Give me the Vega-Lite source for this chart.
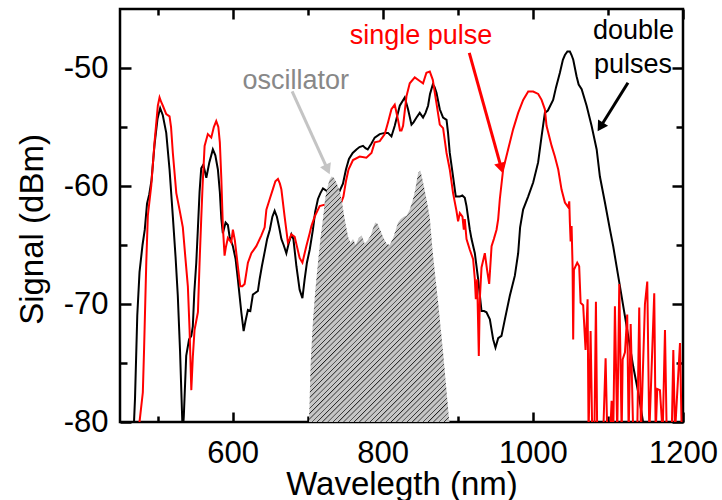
{
"$schema": "https://vega.github.io/schema/vega-lite/v6.json",
"width": 563, "height": 413,
"autosize": "none",
"padding": {"left": 120, "top": 9, "right": 39, "bottom": 78},
"config": {
 "view": {"stroke": "#000", "strokeWidth": 2.5},
 "font": "Liberation Sans",
 "axis": {"domain": false, "grid": false, "tickColor": "#000", "tickWidth": 2.5, "labelFont": "Liberation Sans", "labelFontSize": 31, "labelColor": "#000", "titleFont": "Liberation Sans", "titleFontSize": 33, "titleFontWeight": "normal", "titleColor": "#000", "labelFlush": false, "labelOverlap": false, "labelExpr": "'' + datum.value"}
},
"datasets": {
 "black": [
  {"nm":468,"dB":-81},{"nm":470,"dB":-78},{"nm":473,"dB":-71},{"nm":476,"dB":-67.3},{"nm":480,"dB":-65},{"nm":483,"dB":-63.7},{"nm":486,"dB":-61.5},{"nm":489,"dB":-60.7},{"nm":492,"dB":-59.5},{"nm":496,"dB":-56.5},{"nm":500,"dB":-54.3},{"nm":503.5,"dB":-53.4},{"nm":507,"dB":-54},{"nm":511.6,"dB":-55.5},{"nm":516,"dB":-58.6},{"nm":520.4,"dB":-62.6},{"nm":524,"dB":-66},{"nm":527,"dB":-69.3},{"nm":530,"dB":-74},{"nm":532,"dB":-78},{"nm":533.5,"dB":-81},{"nm":535,"dB":-79.5},{"nm":538.2,"dB":-74.4},{"nm":542,"dB":-73},{"nm":545,"dB":-72.7},{"nm":547,"dB":-71.9},{"nm":549,"dB":-69},{"nm":551.6,"dB":-66.5},{"nm":553.7,"dB":-63.7},{"nm":556,"dB":-60.5},{"nm":558.2,"dB":-58.5},{"nm":561,"dB":-58.2},{"nm":565,"dB":-59.3},{"nm":569,"dB":-58},{"nm":573.7,"dB":-56.9},{"nm":577,"dB":-57.4},{"nm":580.4,"dB":-58.6},{"nm":583,"dB":-60.5},{"nm":585,"dB":-62.8},{"nm":587,"dB":-64},{"nm":590.7,"dB":-63.1},{"nm":593.7,"dB":-63.3},{"nm":596,"dB":-64.3},{"nm":600.4,"dB":-65.1},{"nm":604,"dB":-66.2},{"nm":607,"dB":-67.9},{"nm":611.6,"dB":-70.7},{"nm":614.7,"dB":-72.3},{"nm":617,"dB":-71.5},{"nm":620.4,"dB":-70.5},{"nm":623.6,"dB":-70.6},{"nm":627,"dB":-69.2},{"nm":633.7,"dB":-68.9},{"nm":636,"dB":-67.9},{"nm":639,"dB":-66.8},{"nm":643,"dB":-65.5},{"nm":646,"dB":-64.5},{"nm":649.6,"dB":-63.7},{"nm":653,"dB":-62.6},{"nm":656,"dB":-62.1},{"nm":659,"dB":-62.6},{"nm":662,"dB":-63.5},{"nm":665,"dB":-64.5},{"nm":668,"dB":-65},{"nm":671.6,"dB":-65.7},{"nm":675,"dB":-64.8},{"nm":678.3,"dB":-64.1},{"nm":681,"dB":-64.5},{"nm":685,"dB":-66.8},{"nm":689.3,"dB":-68.8},{"nm":693,"dB":-69.5},{"nm":696,"dB":-67.9},{"nm":699,"dB":-66.5},{"nm":702.7,"dB":-65.4},{"nm":707,"dB":-63.7},{"nm":710,"dB":-62.2},{"nm":713.7,"dB":-61.1},{"nm":717,"dB":-60.6},{"nm":720.4,"dB":-60.2},{"nm":725,"dB":-60.4},{"nm":730,"dB":-60.8},{"nm":736,"dB":-61},{"nm":742,"dB":-60.5},{"nm":747,"dB":-59.8},{"nm":751,"dB":-58.6},{"nm":755,"dB":-57.7},{"nm":760,"dB":-57.2},{"nm":765,"dB":-56.9},{"nm":769,"dB":-56.7},{"nm":773.7,"dB":-56.6},{"nm":777,"dB":-56.8},{"nm":780,"dB":-56.9},{"nm":785,"dB":-56.4},{"nm":789.3,"dB":-55.9},{"nm":796,"dB":-55.6},{"nm":802.7,"dB":-55.5},{"nm":807,"dB":-55.5},{"nm":811.6,"dB":-55.8},{"nm":816,"dB":-54.9},{"nm":822.7,"dB":-53.2},{"nm":829.3,"dB":-52.5},{"nm":833.7,"dB":-53.5},{"nm":838.3,"dB":-54.8},{"nm":841,"dB":-54.6},{"nm":845,"dB":-54.2},{"nm":849.3,"dB":-53.8},{"nm":853.7,"dB":-54.2},{"nm":857,"dB":-53.8},{"nm":860.4,"dB":-53.2},{"nm":863,"dB":-52.2},{"nm":866.7,"dB":-51.4},{"nm":869,"dB":-51.6},{"nm":871.6,"dB":-52.1},{"nm":876,"dB":-53.5},{"nm":880.4,"dB":-54.2},{"nm":885,"dB":-54.4},{"nm":887,"dB":-55.5},{"nm":889.3,"dB":-57.2},{"nm":893.7,"dB":-59.2},{"nm":897.3,"dB":-60.9},{"nm":902.7,"dB":-60.9},{"nm":906,"dB":-60.8},{"nm":909.3,"dB":-61},{"nm":911.6,"dB":-61.7},{"nm":916,"dB":-63.7},{"nm":918.3,"dB":-64.5},{"nm":922.7,"dB":-65.7},{"nm":927.1,"dB":-67.9},{"nm":931.6,"dB":-70.6},{"nm":935,"dB":-70.6},{"nm":938.2,"dB":-70.7},{"nm":942.7,"dB":-71.3},{"nm":947.1,"dB":-73},{"nm":950.2,"dB":-73.7},{"nm":953.8,"dB":-72.9},{"nm":958.2,"dB":-72.7},{"nm":962.7,"dB":-71.3},{"nm":969.3,"dB":-69.3},{"nm":976,"dB":-67.6},{"nm":980.4,"dB":-65.7},{"nm":983,"dB":-63.5},{"nm":987,"dB":-62},{"nm":993.7,"dB":-60.9},{"nm":1000.4,"dB":-59.7},{"nm":1007,"dB":-58},{"nm":1011.6,"dB":-55.8},{"nm":1016,"dB":-53.8},{"nm":1020,"dB":-53.6},{"nm":1027,"dB":-52.7},{"nm":1031,"dB":-51.6},{"nm":1036,"dB":-50.4},{"nm":1040,"dB":-49.3},{"nm":1042.7,"dB":-48.9},{"nm":1046,"dB":-48.6},{"nm":1049.3,"dB":-48.6},{"nm":1051.5,"dB":-48.9},{"nm":1053.8,"dB":-49.3},{"nm":1058.2,"dB":-50.7},{"nm":1061,"dB":-51.4},{"nm":1065,"dB":-51.8},{"nm":1071.6,"dB":-53.2},{"nm":1078.2,"dB":-54.9},{"nm":1085,"dB":-56.9},{"nm":1089.3,"dB":-59.2},{"nm":1096,"dB":-61.4},{"nm":1102.7,"dB":-63.7},{"nm":1107,"dB":-65.1},{"nm":1116,"dB":-68.5},{"nm":1124.9,"dB":-71.9},{"nm":1133.7,"dB":-75.3},{"nm":1140.4,"dB":-77.5},{"nm":1146.3,"dB":-79.8},{"nm":1149,"dB":-81}
 ],
 "red": [
  {"nm":474,"dB":-81},{"nm":476,"dB":-80},{"nm":480.4,"dB":-77.5},{"nm":482,"dB":-74},{"nm":485,"dB":-66.5},{"nm":487.1,"dB":-62.5},{"nm":491.6,"dB":-60},{"nm":496,"dB":-56.3},{"nm":500.4,"dB":-53.2},{"nm":502.7,"dB":-52.5},{"nm":505,"dB":-52.9},{"nm":507.1,"dB":-53.2},{"nm":511.6,"dB":-53.9},{"nm":516,"dB":-54.1},{"nm":518,"dB":-55},{"nm":520.4,"dB":-57.2},{"nm":525,"dB":-60.6},{"nm":529.3,"dB":-62},{"nm":533.7,"dB":-63.5},{"nm":537,"dB":-66},{"nm":540.4,"dB":-68.5},{"nm":542.7,"dB":-72.2},{"nm":545,"dB":-77.3},{"nm":547,"dB":-74.5},{"nm":549.3,"dB":-72.2},{"nm":553.8,"dB":-70.7},{"nm":556,"dB":-66.5},{"nm":558.2,"dB":-62.8},{"nm":560,"dB":-60},{"nm":562.7,"dB":-56.6},{"nm":567,"dB":-55.6},{"nm":571.6,"dB":-55.9},{"nm":575,"dB":-55},{"nm":578.2,"dB":-54.5},{"nm":581,"dB":-55},{"nm":583,"dB":-56.3},{"nm":585,"dB":-59.4},{"nm":587,"dB":-63.4},{"nm":589.3,"dB":-65.9},{"nm":591,"dB":-65.2},{"nm":593.7,"dB":-64.4},{"nm":596,"dB":-64.6},{"nm":598.2,"dB":-64.8},{"nm":600.4,"dB":-63.7},{"nm":603,"dB":-64.6},{"nm":607,"dB":-66.8},{"nm":610.2,"dB":-68.5},{"nm":613,"dB":-68.5},{"nm":616,"dB":-68.3},{"nm":620.4,"dB":-66.5},{"nm":625,"dB":-65.7},{"nm":631.6,"dB":-65.1},{"nm":638.2,"dB":-64.2},{"nm":642.7,"dB":-63.5},{"nm":645,"dB":-62},{"nm":650,"dB":-61},{"nm":654,"dB":-60.2},{"nm":657,"dB":-59.6},{"nm":660.4,"dB":-59.4},{"nm":663,"dB":-59.8},{"nm":665,"dB":-60.3},{"nm":669.3,"dB":-62.6},{"nm":673.7,"dB":-64.8},{"nm":676,"dB":-64.5},{"nm":678.2,"dB":-64.1},{"nm":682.7,"dB":-64.3},{"nm":686,"dB":-65.2},{"nm":689.3,"dB":-66.1},{"nm":693,"dB":-66.5},{"nm":698.2,"dB":-65.1},{"nm":702.7,"dB":-64},{"nm":705,"dB":-63.4},{"nm":709.3,"dB":-62.6},{"nm":716,"dB":-61.7},{"nm":722,"dB":-61.6},{"nm":730,"dB":-62},{"nm":738,"dB":-62},{"nm":744,"dB":-61.5},{"nm":747.6,"dB":-60.9},{"nm":751,"dB":-59.6},{"nm":754.4,"dB":-58.6},{"nm":760.4,"dB":-57.8},{"nm":769.3,"dB":-57.5},{"nm":778.2,"dB":-57.6},{"nm":785,"dB":-57.2},{"nm":789.3,"dB":-56.3},{"nm":796,"dB":-56.2},{"nm":802.7,"dB":-55.6},{"nm":807.1,"dB":-54.6},{"nm":811.6,"dB":-53.5},{"nm":816,"dB":-53.1},{"nm":820.4,"dB":-54.4},{"nm":823,"dB":-55.3},{"nm":825,"dB":-55.3},{"nm":827.1,"dB":-54.9},{"nm":831.6,"dB":-52.4},{"nm":836,"dB":-51.3},{"nm":842.7,"dB":-50.8},{"nm":849.3,"dB":-51.1},{"nm":853.7,"dB":-51.3},{"nm":858.2,"dB":-50.4},{"nm":862.7,"dB":-50.3},{"nm":866.7,"dB":-51},{"nm":871.6,"dB":-53},{"nm":876,"dB":-54.8},{"nm":880.4,"dB":-55.1},{"nm":885,"dB":-57.2},{"nm":889.3,"dB":-58.6},{"nm":893.7,"dB":-60.6},{"nm":898.2,"dB":-62.1},{"nm":900.4,"dB":-63},{"nm":902.7,"dB":-62.3},{"nm":906.2,"dB":-62.6},{"nm":908,"dB":-63.7},{"nm":909.3,"dB":-62.8},{"nm":911.6,"dB":-64.5},{"nm":916,"dB":-65.4},{"nm":920.4,"dB":-66.2},{"nm":922.7,"dB":-67.9},{"nm":924,"dB":-69.6},{"nm":925.8,"dB":-67.9},{"nm":928,"dB":-74.4},{"nm":929.3,"dB":-69.6},{"nm":931.6,"dB":-66.9},{"nm":936,"dB":-65.7},{"nm":939,"dB":-67.1},{"nm":941.8,"dB":-68.3},{"nm":945,"dB":-65.1},{"nm":948,"dB":-64.5},{"nm":951.6,"dB":-63.7},{"nm":953.8,"dB":-62.8},{"nm":956,"dB":-61.1},{"nm":960.4,"dB":-58.6},{"nm":967,"dB":-56.9},{"nm":973.7,"dB":-55.2},{"nm":980.4,"dB":-53.8},{"nm":987.1,"dB":-52.7},{"nm":993.8,"dB":-52},{"nm":1000.4,"dB":-52},{"nm":1007.1,"dB":-52.2},{"nm":1011.6,"dB":-52.7},{"nm":1016,"dB":-53.5},{"nm":1018.2,"dB":-54.9},{"nm":1025,"dB":-56.6},{"nm":1029.3,"dB":-57.5},{"nm":1033.8,"dB":-58.6},{"nm":1038.2,"dB":-60.3},{"nm":1042.7,"dB":-61.4},{"nm":1047.1,"dB":-61.8},{"nm":1048.5,"dB":-61.3},{"nm":1049.3,"dB":-63.1},{"nm":1050.3,"dB":-64.7},{"nm":1051.6,"dB":-63.4},{"nm":1052.9,"dB":-66.8},{"nm":1053.7,"dB":-73},{"nm":1054.7,"dB":-67.1},{"nm":1059.1,"dB":-66.5},{"nm":1061.7,"dB":-66.8},{"nm":1063.6,"dB":-69.9},{"nm":1067,"dB":-70.1},{"nm":1070.2,"dB":-73.9},{"nm":1072.9,"dB":-69.6},{"nm":1074.2,"dB":-81},{"nm":1076.9,"dB":-72.3},{"nm":1079.1,"dB":-81},{"nm":1082,"dB":-81},{"nm":1084,"dB":-69.8},{"nm":1085.7,"dB":-81},{"nm":1093.7,"dB":-81},{"nm":1096.9,"dB":-74.6},{"nm":1099.1,"dB":-81},{"nm":1103,"dB":-81},{"nm":1104.9,"dB":-78.2},{"nm":1107.1,"dB":-81},{"nm":1109.3,"dB":-70.2},{"nm":1112.4,"dB":-81},{"nm":1115.1,"dB":-68.3},{"nm":1118.3,"dB":-81},{"nm":1119.6,"dB":-74.7},{"nm":1122.7,"dB":-74.1},{"nm":1125.7,"dB":-70.9},{"nm":1127.6,"dB":-81},{"nm":1130.3,"dB":-71.7},{"nm":1133.7,"dB":-81},{"nm":1139,"dB":-81},{"nm":1141.7,"dB":-70.3},{"nm":1144,"dB":-81},{"nm":1149.3,"dB":-70},{"nm":1152.4,"dB":-68.1},{"nm":1155.1,"dB":-81},{"nm":1161.7,"dB":-69.1},{"nm":1163.6,"dB":-81},{"nm":1165.7,"dB":-77.2},{"nm":1169.3,"dB":-77.3},{"nm":1172.9,"dB":-81},{"nm":1176,"dB":-72.2},{"nm":1178.3,"dB":-81},{"nm":1185,"dB":-81},{"nm":1187.1,"dB":-73.9},{"nm":1189.3,"dB":-81},{"nm":1196,"dB":-73.3},{"nm":1198.3,"dB":-81},{"nm":1200,"dB":-81}
 ],
 "osc": [
  {"nm":701.8,"dB":-80},{"nm":704,"dB":-75},{"nm":707,"dB":-71.5},{"nm":710,"dB":-69},{"nm":713.7,"dB":-66.5},{"nm":717.3,"dB":-64.3},{"nm":720.4,"dB":-62.8},{"nm":723,"dB":-61.2},{"nm":726,"dB":-60.2},{"nm":729,"dB":-59.5},{"nm":732,"dB":-59.2},{"nm":735,"dB":-59.3},{"nm":738.2,"dB":-59.7},{"nm":742,"dB":-60.3},{"nm":745,"dB":-61.1},{"nm":749.3,"dB":-62.8},{"nm":753.8,"dB":-64.3},{"nm":757,"dB":-64.8},{"nm":760.4,"dB":-64.5},{"nm":764,"dB":-65},{"nm":768,"dB":-64.4},{"nm":772,"dB":-64.2},{"nm":776,"dB":-64.9},{"nm":780,"dB":-64.6},{"nm":784,"dB":-64.2},{"nm":787,"dB":-63.6},{"nm":790,"dB":-63.1},{"nm":793,"dB":-63.2},{"nm":797,"dB":-63.8},{"nm":801,"dB":-64.4},{"nm":805,"dB":-64.9},{"nm":809.3,"dB":-65},{"nm":813.8,"dB":-64.4},{"nm":817,"dB":-63.8},{"nm":820.4,"dB":-63.1},{"nm":824,"dB":-62.8},{"nm":828,"dB":-62.6},{"nm":832,"dB":-62.5},{"nm":836,"dB":-62},{"nm":840,"dB":-61.2},{"nm":843,"dB":-60.4},{"nm":847.1,"dB":-58.9},{"nm":850.2,"dB":-58.7},{"nm":853.8,"dB":-59.7},{"nm":858.2,"dB":-61.1},{"nm":862.7,"dB":-62.7},{"nm":866.7,"dB":-65.7},{"nm":873.8,"dB":-69.9},{"nm":880.4,"dB":-74.1},{"nm":888.4,"dB":-79.8},{"nm":889,"dB":-80}
 ],
 "arrows": [
  {"series":"osc","nm":679.3,"dB":-51.99,"nm2":726.5,"dB2":-58.6,"angle":155.6},
  {"series":"single","nm":915.3,"dB":-48.71,"nm2":957.9,"dB2":-58.47,"angle":165},
  {"series":"double","nm":1126.7,"dB":-51.25,"nm2":1089.9,"dB2":-55.0,"angle":212.2}
 ]
},
"resolve": {"axis": {"x": "independent", "y": "independent"}},
"layer": [
 {
  "data": {"name": "black"},
  "mark": {"type": "line", "stroke": "#000", "strokeWidth": 2, "clip": true},
  "encoding": {
   "x": {"field": "nm", "type": "quantitative", "scale": {"domain": [450, 1200], "nice": false, "zero": false},
         "axis": {"orient": "bottom", "values": [600, 800, 1000, 1200], "tickSize": -10, "labelPadding": 26, "title": "Wavelegth (nm)", "titlePadding": 0}},
   "y": {"field": "dB", "type": "quantitative", "scale": {"domain": [-80, -45], "nice": false, "zero": false},
         "axis": {"orient": "left", "values": [-50, -60, -70, -80], "tickSize": -11, "labelPadding": 23, "title": "Signal (dBm)", "titlePadding": 14, "titleY": 220}}
  }
 },
 {
  "data": {"name": "red"},
  "mark": {"type": "line", "stroke": "#ff0000", "strokeWidth": 2, "clip": true},
  "encoding": {
   "x": {"field": "nm", "type": "quantitative", "scale": {"domain": [450, 1200], "nice": false, "zero": false},
         "axis": {"orient": "bottom", "values": [500, 700, 900, 1100], "tickSize": -6, "labels": false, "title": null}},
   "y": {"field": "dB", "type": "quantitative", "scale": {"domain": [-80, -45], "nice": false, "zero": false},
         "axis": {"orient": "left", "values": [-55, -65, -75], "tickSize": -7, "labels": false, "title": null}}
  }
 },
 {
  "data": {"name": "osc"},
  "mark": {"type": "area", "clip": true, "fill": {"gradient": "linear", "x1": 0, "y1": 0, "x2": 0.6641, "y2": 1.1878, "stops": [
   {"offset":0,"color":"#1e1e1e"},{"offset":0.003,"color":"#c6c6c6"},{"offset":0.012,"color":"#c6c6c6"},
   {"offset":0.0135,"color":"#1e1e1e"},{"offset":0.0165,"color":"#c6c6c6"},{"offset":0.0255,"color":"#c6c6c6"},
   {"offset":0.027,"color":"#1e1e1e"},{"offset":0.03,"color":"#c6c6c6"},{"offset":0.039,"color":"#c6c6c6"},
   {"offset":0.0405,"color":"#1e1e1e"},{"offset":0.0435,"color":"#c6c6c6"},{"offset":0.0525,"color":"#c6c6c6"},
   {"offset":0.054,"color":"#1e1e1e"},{"offset":0.057,"color":"#c6c6c6"},{"offset":0.066,"color":"#c6c6c6"},
   {"offset":0.0675,"color":"#1e1e1e"},{"offset":0.0705,"color":"#c6c6c6"},{"offset":0.0795,"color":"#c6c6c6"},
   {"offset":0.081,"color":"#1e1e1e"},{"offset":0.084,"color":"#c6c6c6"},{"offset":0.093,"color":"#c6c6c6"},
   {"offset":0.0945,"color":"#1e1e1e"},{"offset":0.0975,"color":"#c6c6c6"},{"offset":0.1065,"color":"#c6c6c6"},
   {"offset":0.108,"color":"#1e1e1e"},{"offset":0.111,"color":"#c6c6c6"},{"offset":0.12,"color":"#c6c6c6"},
   {"offset":0.1215,"color":"#1e1e1e"},{"offset":0.1245,"color":"#c6c6c6"},{"offset":0.1335,"color":"#c6c6c6"},
   {"offset":0.135,"color":"#1e1e1e"},{"offset":0.138,"color":"#c6c6c6"},{"offset":0.147,"color":"#c6c6c6"},
   {"offset":0.1485,"color":"#1e1e1e"},{"offset":0.1515,"color":"#c6c6c6"},{"offset":0.1605,"color":"#c6c6c6"},
   {"offset":0.162,"color":"#1e1e1e"},{"offset":0.165,"color":"#c6c6c6"},{"offset":0.174,"color":"#c6c6c6"},
   {"offset":0.1755,"color":"#1e1e1e"},{"offset":0.1785,"color":"#c6c6c6"},{"offset":0.1875,"color":"#c6c6c6"},
   {"offset":0.189,"color":"#1e1e1e"},{"offset":0.192,"color":"#c6c6c6"},{"offset":0.201,"color":"#c6c6c6"},
   {"offset":0.2025,"color":"#1e1e1e"},{"offset":0.2055,"color":"#c6c6c6"},{"offset":0.2145,"color":"#c6c6c6"},
   {"offset":0.216,"color":"#1e1e1e"},{"offset":0.219,"color":"#c6c6c6"},{"offset":0.228,"color":"#c6c6c6"},
   {"offset":0.2295,"color":"#1e1e1e"},{"offset":0.2325,"color":"#c6c6c6"},{"offset":0.2415,"color":"#c6c6c6"},
   {"offset":0.243,"color":"#1e1e1e"},{"offset":0.246,"color":"#c6c6c6"},{"offset":0.255,"color":"#c6c6c6"},
   {"offset":0.2565,"color":"#1e1e1e"},{"offset":0.2595,"color":"#c6c6c6"},{"offset":0.2685,"color":"#c6c6c6"},
   {"offset":0.27,"color":"#1e1e1e"},{"offset":0.273,"color":"#c6c6c6"},{"offset":0.282,"color":"#c6c6c6"},
   {"offset":0.2835,"color":"#1e1e1e"},{"offset":0.2865,"color":"#c6c6c6"},{"offset":0.2955,"color":"#c6c6c6"},
   {"offset":0.297,"color":"#1e1e1e"},{"offset":0.3,"color":"#c6c6c6"},{"offset":0.309,"color":"#c6c6c6"},
   {"offset":0.3105,"color":"#1e1e1e"},{"offset":0.3135,"color":"#c6c6c6"},{"offset":0.3225,"color":"#c6c6c6"},
   {"offset":0.324,"color":"#1e1e1e"},{"offset":0.327,"color":"#c6c6c6"},{"offset":0.336,"color":"#c6c6c6"},
   {"offset":0.3375,"color":"#1e1e1e"},{"offset":0.3405,"color":"#c6c6c6"},{"offset":0.3495,"color":"#c6c6c6"},
   {"offset":0.351,"color":"#1e1e1e"},{"offset":0.354,"color":"#c6c6c6"},{"offset":0.363,"color":"#c6c6c6"},
   {"offset":0.3645,"color":"#1e1e1e"},{"offset":0.3675,"color":"#c6c6c6"},{"offset":0.3765,"color":"#c6c6c6"},
   {"offset":0.378,"color":"#1e1e1e"},{"offset":0.381,"color":"#c6c6c6"},{"offset":0.39,"color":"#c6c6c6"},
   {"offset":0.3915,"color":"#1e1e1e"},{"offset":0.3945,"color":"#c6c6c6"},{"offset":0.4035,"color":"#c6c6c6"},
   {"offset":0.405,"color":"#1e1e1e"},{"offset":0.408,"color":"#c6c6c6"},{"offset":0.417,"color":"#c6c6c6"},
   {"offset":0.4185,"color":"#1e1e1e"},{"offset":0.4215,"color":"#c6c6c6"},{"offset":0.4305,"color":"#c6c6c6"},
   {"offset":0.432,"color":"#1e1e1e"},{"offset":0.435,"color":"#c6c6c6"},{"offset":0.444,"color":"#c6c6c6"},
   {"offset":0.4455,"color":"#1e1e1e"},{"offset":0.4485,"color":"#c6c6c6"},{"offset":0.4575,"color":"#c6c6c6"},
   {"offset":0.459,"color":"#1e1e1e"},{"offset":0.462,"color":"#c6c6c6"},{"offset":0.471,"color":"#c6c6c6"},
   {"offset":0.4725,"color":"#1e1e1e"},{"offset":0.4755,"color":"#c6c6c6"},{"offset":0.4845,"color":"#c6c6c6"},
   {"offset":0.486,"color":"#1e1e1e"},{"offset":0.489,"color":"#c6c6c6"},{"offset":0.498,"color":"#c6c6c6"},
   {"offset":0.4995,"color":"#1e1e1e"},{"offset":0.5025,"color":"#c6c6c6"},{"offset":0.5115,"color":"#c6c6c6"},
   {"offset":0.513,"color":"#1e1e1e"},{"offset":0.516,"color":"#c6c6c6"},{"offset":0.525,"color":"#c6c6c6"},
   {"offset":0.5265,"color":"#1e1e1e"},{"offset":0.5295,"color":"#c6c6c6"},{"offset":0.5385,"color":"#c6c6c6"},
   {"offset":0.54,"color":"#1e1e1e"},{"offset":0.543,"color":"#c6c6c6"},{"offset":0.552,"color":"#c6c6c6"},
   {"offset":0.5535,"color":"#1e1e1e"},{"offset":0.5565,"color":"#c6c6c6"},{"offset":0.5655,"color":"#c6c6c6"},
   {"offset":0.567,"color":"#1e1e1e"},{"offset":0.57,"color":"#c6c6c6"},{"offset":0.579,"color":"#c6c6c6"},
   {"offset":0.5805,"color":"#1e1e1e"},{"offset":0.5835,"color":"#c6c6c6"},{"offset":0.5925,"color":"#c6c6c6"},
   {"offset":0.594,"color":"#1e1e1e"},{"offset":0.597,"color":"#c6c6c6"},{"offset":0.606,"color":"#c6c6c6"},
   {"offset":0.6075,"color":"#1e1e1e"},{"offset":0.6105,"color":"#c6c6c6"},{"offset":0.6195,"color":"#c6c6c6"},
   {"offset":0.621,"color":"#1e1e1e"},{"offset":0.624,"color":"#c6c6c6"},{"offset":0.633,"color":"#c6c6c6"},
   {"offset":0.6345,"color":"#1e1e1e"},{"offset":0.6375,"color":"#c6c6c6"},{"offset":0.6465,"color":"#c6c6c6"},
   {"offset":0.648,"color":"#1e1e1e"},{"offset":0.651,"color":"#c6c6c6"},{"offset":0.66,"color":"#c6c6c6"},
   {"offset":0.6615,"color":"#1e1e1e"},{"offset":0.6645,"color":"#c6c6c6"},{"offset":0.6735,"color":"#c6c6c6"},
   {"offset":0.675,"color":"#1e1e1e"},{"offset":0.678,"color":"#c6c6c6"},{"offset":0.687,"color":"#c6c6c6"},
   {"offset":0.6885,"color":"#1e1e1e"},{"offset":0.6915,"color":"#c6c6c6"},{"offset":0.7005,"color":"#c6c6c6"},
   {"offset":0.702,"color":"#1e1e1e"},{"offset":0.705,"color":"#c6c6c6"},{"offset":0.714,"color":"#c6c6c6"},
   {"offset":0.7155,"color":"#1e1e1e"},{"offset":0.7185,"color":"#c6c6c6"},{"offset":0.7275,"color":"#c6c6c6"},
   {"offset":0.729,"color":"#1e1e1e"},{"offset":0.732,"color":"#c6c6c6"},{"offset":0.741,"color":"#c6c6c6"},
   {"offset":0.7425,"color":"#1e1e1e"},{"offset":0.7455,"color":"#c6c6c6"},{"offset":0.7545,"color":"#c6c6c6"},
   {"offset":0.756,"color":"#1e1e1e"},{"offset":0.759,"color":"#c6c6c6"},{"offset":0.768,"color":"#c6c6c6"},
   {"offset":0.7695,"color":"#1e1e1e"},{"offset":0.7725,"color":"#c6c6c6"},{"offset":0.7815,"color":"#c6c6c6"},
   {"offset":0.783,"color":"#1e1e1e"},{"offset":0.786,"color":"#c6c6c6"},{"offset":0.795,"color":"#c6c6c6"},
   {"offset":0.7965,"color":"#1e1e1e"},{"offset":0.7995,"color":"#c6c6c6"},{"offset":0.8085,"color":"#c6c6c6"},
   {"offset":0.81,"color":"#1e1e1e"},{"offset":0.813,"color":"#c6c6c6"},{"offset":0.822,"color":"#c6c6c6"},
   {"offset":0.8235,"color":"#1e1e1e"},{"offset":0.8265,"color":"#c6c6c6"},{"offset":0.8355,"color":"#c6c6c6"},
   {"offset":0.837,"color":"#1e1e1e"},{"offset":0.84,"color":"#c6c6c6"},{"offset":0.849,"color":"#c6c6c6"},
   {"offset":0.8505,"color":"#1e1e1e"},{"offset":0.8535,"color":"#c6c6c6"},{"offset":0.8625,"color":"#c6c6c6"},
   {"offset":0.864,"color":"#1e1e1e"},{"offset":0.867,"color":"#c6c6c6"},{"offset":0.876,"color":"#c6c6c6"},
   {"offset":0.8775,"color":"#1e1e1e"},{"offset":0.8805,"color":"#c6c6c6"},{"offset":0.8895,"color":"#c6c6c6"},
   {"offset":0.891,"color":"#1e1e1e"},{"offset":0.894,"color":"#c6c6c6"},{"offset":0.903,"color":"#c6c6c6"},
   {"offset":0.9045,"color":"#1e1e1e"},{"offset":0.9075,"color":"#c6c6c6"},{"offset":0.9165,"color":"#c6c6c6"},
   {"offset":0.918,"color":"#1e1e1e"},{"offset":0.921,"color":"#c6c6c6"},{"offset":0.93,"color":"#c6c6c6"},
   {"offset":0.9315,"color":"#1e1e1e"},{"offset":0.9345,"color":"#c6c6c6"},{"offset":0.9435,"color":"#c6c6c6"},
   {"offset":0.945,"color":"#1e1e1e"},{"offset":0.948,"color":"#c6c6c6"},{"offset":0.957,"color":"#c6c6c6"},
   {"offset":0.9585,"color":"#1e1e1e"},{"offset":0.9615,"color":"#c6c6c6"},{"offset":0.9705,"color":"#c6c6c6"},
   {"offset":0.972,"color":"#1e1e1e"},{"offset":0.975,"color":"#c6c6c6"},{"offset":0.984,"color":"#c6c6c6"},
   {"offset":0.9855,"color":"#1e1e1e"},{"offset":0.9885,"color":"#c6c6c6"},{"offset":1,"color":"#c6c6c6"}
  ]}},
  "encoding": {
   "x": {"field": "nm", "type": "quantitative", "scale": {"domain": [450, 1200], "nice": false, "zero": false},
         "axis": {"orient": "top", "values": [600, 800, 1000, 1200], "tickSize": -10, "labels": false, "title": null}},
   "y": {"field": "dB", "type": "quantitative", "scale": {"domain": [-80, -45], "nice": false, "zero": false},
         "axis": {"orient": "right", "values": [-50, -60, -70, -80], "tickSize": -11, "labels": false, "title": null}},
   "y2": {"datum": -80}
  }
 },
 {
  "data": {"values": [{"label": "oscillator", "nm": 684, "dB": -51.8}]},
  "mark": {"type": "text", "font": "Liberation Sans", "fontSize": 27, "color": "#888888", "align": "center", "baseline": "alphabetic"},
  "encoding": {
   "x": {"field": "nm", "type": "quantitative", "scale": {"domain": [450, 1200], "nice": false, "zero": false},
         "axis": {"orient": "top", "values": [500, 700, 900, 1100], "tickSize": -6, "labels": false, "title": null}},
   "y": {"field": "dB", "type": "quantitative", "scale": {"domain": [-80, -45], "nice": false, "zero": false},
         "axis": {"orient": "right", "values": [-55, -65, -75], "tickSize": -7, "labels": false, "title": null}},
   "text": {"field": "label"}
  }
 },
 {
  "data": {"values": [{"label": "single pulse", "nm": 851, "dB": -48.0}]},
  "mark": {"type": "text", "font": "Liberation Sans", "fontSize": 27, "color": "#ff0000", "align": "center", "baseline": "alphabetic"},
  "encoding": {
   "x": {"field": "nm", "type": "quantitative", "scale": {"domain": [450, 1200], "nice": false, "zero": false}, "axis": null},
   "y": {"field": "dB", "type": "quantitative", "scale": {"domain": [-80, -45], "nice": false, "zero": false}, "axis": null},
   "text": {"field": "label"}
  }
 },
 {
  "data": {"values": [{"label": "double", "nm": 1134, "dB": -47.58}, {"label": "pulses", "nm": 1133.5, "dB": -50.41}]},
  "mark": {"type": "text", "font": "Liberation Sans", "fontSize": 27, "color": "#000000", "align": "center", "baseline": "alphabetic"},
  "encoding": {
   "x": {"field": "nm", "type": "quantitative", "scale": {"domain": [450, 1200], "nice": false, "zero": false}, "axis": null},
   "y": {"field": "dB", "type": "quantitative", "scale": {"domain": [-80, -45], "nice": false, "zero": false}, "axis": null},
   "text": {"field": "label"}
  }
 },
 {
  "data": {"name": "arrows"},
  "mark": {"type": "rule", "strokeWidth": 3},
  "encoding": {
   "x": {"field": "nm", "type": "quantitative", "scale": {"domain": [450, 1200], "nice": false, "zero": false}, "axis": null},
   "y": {"field": "dB", "type": "quantitative", "scale": {"domain": [-80, -45], "nice": false, "zero": false}, "axis": null},
   "x2": {"field": "nm2"},
   "y2": {"field": "dB2"},
   "color": {"field": "series", "type": "nominal", "scale": {"domain": ["osc", "single", "double"], "range": ["#c4c4c4", "#ff0000", "#000000"]}, "legend": null}
  }
 },
 {
  "data": {"name": "arrows"},
  "mark": {"type": "point", "shape": "triangle-up", "filled": true, "size": 140, "opacity": 1},
  "encoding": {
   "x": {"field": "nm2", "type": "quantitative", "scale": {"domain": [450, 1200], "nice": false, "zero": false}, "axis": null},
   "y": {"field": "dB2", "type": "quantitative", "scale": {"domain": [-80, -45], "nice": false, "zero": false}, "axis": null},
   "angle": {"field": "angle", "type": "quantitative", "scale": null},
   "color": {"field": "series", "type": "nominal", "scale": {"domain": ["osc", "single", "double"], "range": ["#c4c4c4", "#ff0000", "#000000"]}, "legend": null}
  }
 }
]
}
